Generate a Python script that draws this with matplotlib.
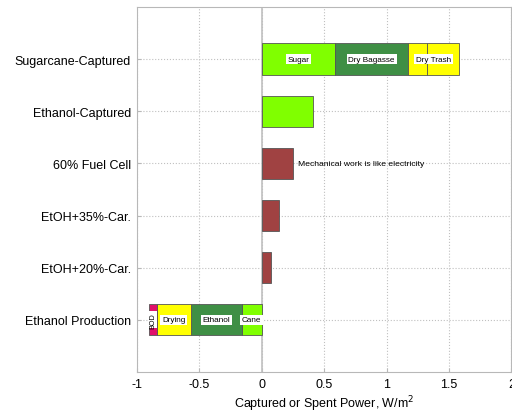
import numpy as np
import matplotlib.pyplot as plt

plt.rcParams['font.family'] = ['Liberation Sans', 'DejaVu Sans']

labels = ['Ethanol Production', 'EtOH+20%-Car.', 'EtOH+35%-Car.',
          '60% Fuel Cell', 'Ethanol-Captured', 'Sugarcane-Captured']
ypos = np.arange(1, len(labels) + 1)

# sugarcane captured power, stacked: sugar, dry bagasse, dry trash (two parts)
cane_parts = [0.59, 0.58, 0.15, 0.26]
cane_cols = ['#80ff00', '#3f8f45', '#ffff00', '#ffff00']
ethanol_captured = 0.41
# electric-equivalent outputs
fuel_cell = 0.248
car35 = 0.14
car20 = 0.074
# spent power for ethanol production (negative): cane, ethanol, drying, BOD
prod_parts = [0.158, 0.41, 0.272, 0.06]
prod_names = ['Cane', 'Ethanol', 'Drying', 'BOD']
prod_cols = ['#80ff00', '#3f8f45', '#ffff00', '#e0106a']

fig = plt.figure(figsize=(5.12, 4.14), dpi=100)
ax = fig.add_axes([0.267, 0.099, 0.732, 0.882])

h = 0.6
ec = '#555555'
lw = 0.6

# top bar
left = 0
for v, c in zip(cane_parts, cane_cols):
    ax.barh(ypos[5], v, left=left, height=h, color=c, edgecolor=ec, linewidth=lw, zorder=3)
    left += v
bbox = dict(facecolor='white', edgecolor='none', pad=1.3)
fs = 5.9
ax.text(cane_parts[0] / 2, ypos[5], 'Sugar', ha='center', va='center', fontsize=fs, bbox=bbox, zorder=4)
ax.text(cane_parts[0] + cane_parts[1] / 2, ypos[5], 'Dry Bagasse', ha='center', va='center', fontsize=fs, bbox=bbox, zorder=4)
t0 = cane_parts[0] + cane_parts[1]
ax.text(t0 + (cane_parts[2] + cane_parts[3]) / 2, ypos[5], 'Dry Trash', ha='center', va='center', fontsize=fs, bbox=bbox, zorder=4)

ax.barh(ypos[4], ethanol_captured, height=h, color='#80ff00', edgecolor=ec, linewidth=lw, zorder=3)
for y, v in zip(ypos[1:4], [car20, car35, fuel_cell]):
    ax.barh(y, v, height=h, color='#a04242', edgecolor=ec, linewidth=lw, zorder=3)
ax.text(fuel_cell + 0.04, ypos[3], 'Mechanical work is like electricity', ha='left', va='center', fontsize=6.1, zorder=4)

# production bar going left
right = 0
for v, c, n in zip(prod_parts, prod_cols, prod_names):
    ax.barh(ypos[0], -v, left=right, height=h, color=c, edgecolor=ec, linewidth=lw, zorder=3)
    if n == 'BOD':
        ax.text(right - v / 2, ypos[0], n, ha='center', va='center', fontsize=5.2,
                rotation=90, bbox=dict(facecolor='white', edgecolor='none', pad=0.5), zorder=4)
    else:
        ax.text(right - v / 2, ypos[0], n, ha='center', va='center', fontsize=fs, bbox=bbox, zorder=4)
    right -= v

ax.axvline(0, color='#c0c0c0', linewidth=1.2, zorder=2)
ax.set_xlim(-1, 2)
ax.set_ylim(0, 7)
ax.set_xticks([-1, -0.5, 0, 0.5, 1, 1.5, 2])
ax.set_xticklabels(['-1', '-0.5', '0', '0.5', '1', '1.5', '2'])
ax.set_yticks(ypos)
ax.set_yticklabels(labels)
ax.grid(True, linestyle=':', color='#c0c0c0', linewidth=0.8, zorder=0)
ax.set_axisbelow(True)
for s in ax.spines.values():
    s.set_color('#b8b8b8')
ax.tick_params(colors='#b8b8b8', labelcolor='black', labelsize=9, length=3, direction='in', pad=4)
ax.set_xlabel('Captured or Spent Power, W/m$^2$', fontsize=9, labelpad=3)

fig.savefig('out.png', dpi=100)
